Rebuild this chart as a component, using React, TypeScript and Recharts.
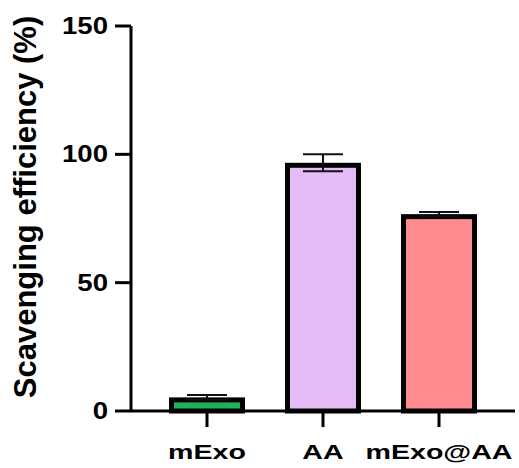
import React from 'react';
import { BarChart, Bar, XAxis, YAxis, Cell, ErrorBar, Label } from 'recharts';

const groups = ['mExo', 'AA', 'mExo@AA'];
const efficiency = [5.3, 96.7, 76.7];
const sd = [0.9, 3.3, 0.8];
const yTicks = [0, 50, 100, 150];
const barColors = ['#1fb15c', '#e6bcf7', '#ff8b8f'];

const data = groups.map((g, i) => ({ name: g, value: efficiency[i], err: sd[i] }));

const FONT = '"Liberation Sans", Arial, Helvetica, sans-serif';
const BORDER = 5;

// draw the border inside the bar so its outer edge sits at the value
const OutlinedBar = (props: any) => {
  const { x, y, width, height, fill } = props;
  if (width == null || height == null) return null;
  const h = Math.max(height - BORDER / 2, 0);
  return (
    <rect
      x={x + BORDER / 2}
      y={y + BORDER / 2}
      width={width - BORDER}
      height={h}
      fill={fill}
      stroke="#000"
      strokeWidth={BORDER}
    />
  );
};

const YTick = (props: any) => {
  const { x, y, payload } = props;
  return (
    <g transform={`translate(${x},${y}) scale(1.2,1)`}>
      <text x={0} y={0} dy={8} textAnchor="end" fontFamily={FONT} fontWeight="bold" fontSize={23} fill="#000">
        {payload.value}
      </text>
    </g>
  );
};

const XTick = (props: any) => {
  const { x, y, payload } = props;
  return (
    <g transform={`translate(${x},${y}) scale(1.43,1)`}>
      <text x={0} y={0} dy={28} textAnchor="middle" fontFamily={FONT} fontWeight="bold" fontSize={20} fill="#000">
        {payload.value}
      </text>
    </g>
  );
};

const YTitle = () => (
  <text
    x={36}
    y={207}
    transform="rotate(-90, 36, 207)"
    textAnchor="middle"
    fontFamily={FONT}
    fontWeight="bold"
    fontSize={31}
    fill="#000"
  >
    Scavenging efficiency (%)
  </text>
);

export default function App() {
  return (
    <div style={{ position: 'absolute', left: 0, top: 0, width: 519, height: 468, background: '#fff' }}>
      <BarChart width={519} height={468} data={data} margin={{ top: 26, right: 4, bottom: 0, left: 0 }}>
        <XAxis
          dataKey="name"
          height={57}
          padding={{ left: 18, right: 18 }}
          axisLine={{ stroke: '#000', strokeWidth: 3 }}
          tickLine={{ stroke: '#000', strokeWidth: 3 }}
          tickSize={16}
          tickMargin={4}
          tick={<XTick />}
          interval={0}
        />
        <YAxis
          width={131}
          domain={[0, 150]}
          ticks={yTicks}
          axisLine={{ stroke: '#000', strokeWidth: 3 }}
          tickLine={{ stroke: '#000', strokeWidth: 3 }}
          tickSize={16}
          tickMargin={7}
          tick={<YTick />}
        >
          <Label content={<YTitle />} />
        </YAxis>
        <Bar dataKey="value" barSize={76} shape={<OutlinedBar />} isAnimationActive={false}>
          {data.map((d, i) => (
            <Cell key={d.name} fill={barColors[i]} />
          ))}
          <ErrorBar dataKey="err" direction="y" width={20} strokeWidth={2} stroke="#111" />
        </Bar>
      </BarChart>
    </div>
  );
}
